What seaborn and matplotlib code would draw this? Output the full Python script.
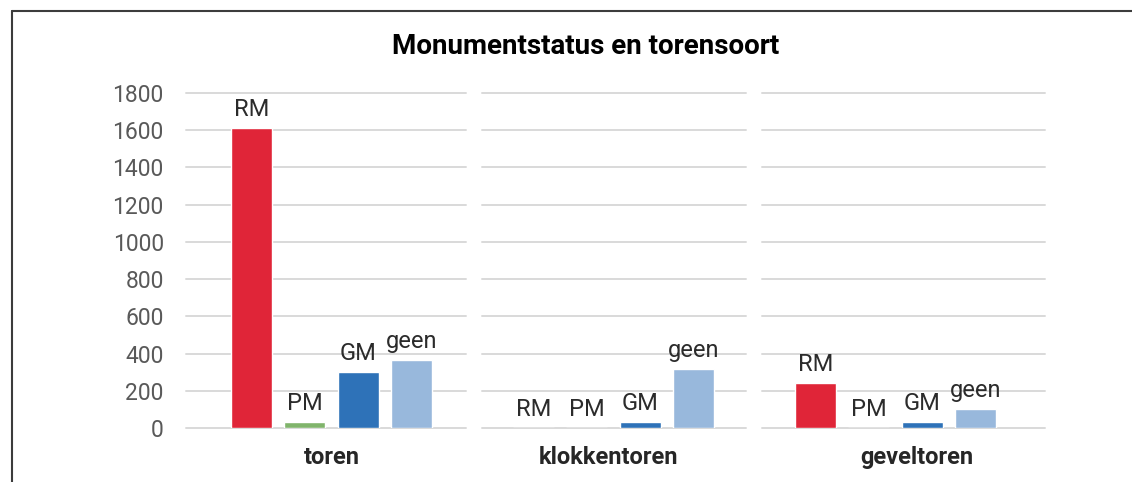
import numpy as np
import pandas as pd
import matplotlib
matplotlib.use("Agg")
import matplotlib.pyplot as plt
import seaborn as sns
from matplotlib.lines import Line2D

# data
torensoort = ["toren", "klokkentoren", "geveltoren"]
status = ["RM", "PM", "GM", "geen"]
toren = [1610, 30, 300, 365]
klokkentoren = [0, 0, 30, 315]
geveltoren = [240, 0, 30, 100]
kleuren = ["#E02538", "#80B46B", "#2E72B8", "#98B8DC"]
y_ticks = [0, 200, 400, 600, 800, 1000, 1200, 1400, 1600, 1800]

rows = []
for soort, waarden in zip(torensoort, [toren, klokkentoren, geveltoren]):
    for s, w in zip(status, waarden):
        rows.append({"soort": soort, "status": s, "aantal": w})
df = pd.DataFrame(rows)

sns.set_style("white")
plt.rcParams['font.family'] = ['Roboto', 'DejaVu Sans']

W, H = 1132, 482
fig = plt.figure(figsize=(W / 100, H / 100), dpi=100)

# panel layout (pixels): left edge, width, x-limits, label position
panels = [
    (186, 280, (-1.229, 4.022), 1.5),
    (482, 264, (-0.966, 3.985), 1.40),
    (762, 283, (-1.004, 4.304), 1.90),
]
bottom = (H - 428) / H
height = (428 - 93) / H

for i, (soort, (left, width, xl, lab_x)) in enumerate(zip(torensoort, panels)):
    ax = fig.add_axes([left / W, bottom, width / W, height])
    sub = df[df["soort"] == soort]
    sns.barplot(data=sub, x="status", y="aantal", hue="status",
                order=status, hue_order=status, palette=kleuren,
                width=0.77, dodge=False, legend=False, ax=ax,
                saturation=1, errorbar=None)
    for cont, lab in zip(ax.containers, status):
        ax.bar_label(cont, labels=[lab], padding=5, fontsize=17, color="#2B2B2B")
    ax.set_xlim(*xl)
    ax.set_ylim(0, 1800)
    ax.set_yticks(y_ticks)
    ax.yaxis.grid(True, color="#D9D9D9", lw=1.4)
    for gl in ax.get_ygridlines():
        gl.set_clip_on(False)
    ax.set_axisbelow(True)
    for sp in ax.spines.values():
        sp.set_visible(False)
    ax.set_xticks([lab_x])
    ax.set_xticklabels([soort], fontsize=17, fontweight="bold", color="#262626")
    ax.tick_params(axis="x", length=0, pad=13)
    ax.tick_params(axis="y", length=0, pad=16, labelsize=16.5, labelcolor="#595959")
    if i > 0:
        ax.set_yticklabels([])
    ax.set_xlabel("")
    ax.set_ylabel("")

fig.text(586 / W, 1 - 46 / H, "Monumentstatus en torensoort",
         ha="center", va="center", fontsize=20, fontweight="bold", color="black")

# frame lines at top and left
fig.add_artist(Line2D([12 / W, 1.0], [1 - 11 / H] * 2, transform=fig.transFigure,
                      color="#3C3C3C", lw=1.5))
fig.add_artist(Line2D([12 / W] * 2, [0, 1 - 11 / H], transform=fig.transFigure,
                      color="#3C3C3C", lw=1.5))

fig.savefig("out.png", dpi=100)
